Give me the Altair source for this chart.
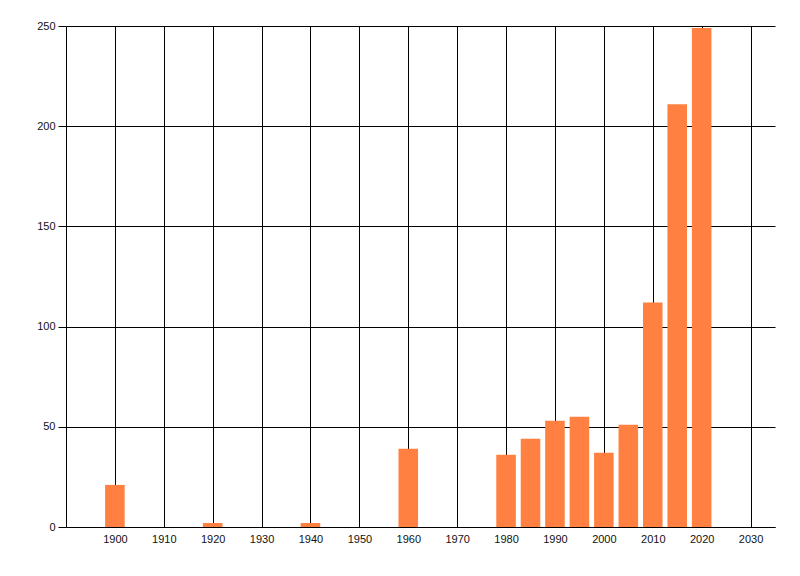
import altair as alt
import pandas as pd

years = [1900, 1920, 1940, 1960, 1980, 1985, 1990, 1995, 2000, 2005, 2010, 2015, 2020]
counts = [21, 2, 2, 39, 36, 44, 53, 55, 37, 51, 112, 211, 249]
x_ticks = list(range(1900, 2031, 10))
y_ticks = [0, 50, 100, 150, 200, 250]

df = pd.DataFrame({"year": years, "count": counts})

font = "Liberation Sans"

chart = alt.Chart(df).transform_calculate(
    x0="datum.year - 2", x1="datum.year + 2", base="0"
).mark_bar(color="#FF8040").encode(
    x=alt.X("x0:Q", title=None,
            scale=alt.Scale(domain=[1890, 2035], nice=False, zero=False, padding=0),
            axis=alt.Axis(values=x_ticks, format="d", grid=True, gridColor="black",
                          gridOpacity=1, gridWidth=1, ticks=False, domain=True,
                          domainColor="black", labelPadding=6, labelFont=font,
                          labelFontSize=11, labelColor="#111")),
    x2="x1:Q",
    y=alt.Y("count:Q", title=None,
            scale=alt.Scale(domain=[0, 250], nice=False, padding=0),
            axis=alt.Axis(values=y_ticks, grid=True, gridColor="black", gridOpacity=1,
                          gridWidth=1, ticks=True, tickSize=8, tickColor="black",
                          domain=True, domainColor="black", labelPadding=3,
                          labelFont=font, labelFontSize=11, labelColor="#111")),
    y2="base:Q",
).properties(
    width=709, height=501,
    padding={"left": 58, "top": 18, "right": 17, "bottom": 30},
    autosize=alt.AutoSizeParams(type="none"),
    background="white",
).configure_view(stroke=None)

chart.save("out.html", embed_options={"renderer": "svg", "actions": False})
